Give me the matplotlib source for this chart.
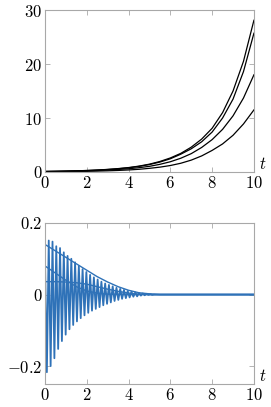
import numpy as np
import matplotlib.pyplot as plt

plt.rcParams['mathtext.fontset'] = 'cm'
plt.rcParams['font.family'] = 'serif'
plt.rcParams['font.serif'] = ['DejaVu Serif']

# courbes du haut (lues sur l'image, pas de 0.5)
t_haut = [0, 0.5, 1, 1.5, 2, 2.5, 3, 3.5, 4, 4.5, 5, 5.5, 6, 6.5, 7, 7.5, 8, 8.5, 9, 9.5, 10]
courbe_a = [0.1, 0.13, 0.17, 0.22, 0.28, 0.37, 0.48, 0.63, 0.82, 1.09, 1.45, 1.95, 2.6, 3.45, 4.6, 6.1, 8.1, 11.0, 15.0, 20.5, 28.1]
courbe_b = [0.1, 0.13, 0.16, 0.21, 0.27, 0.35, 0.46, 0.6, 0.78, 1.04, 1.38, 1.84, 2.45, 3.3, 4.3, 5.6, 7.4, 10.0, 13.5, 18.6, 25.7]
courbe_c = [0.08, 0.10, 0.13, 0.17, 0.22, 0.28, 0.36, 0.47, 0.6, 0.8, 1.05, 1.42, 1.9, 2.55, 3.4, 4.55, 6.0, 7.9, 10.4, 13.7, 18.0]
courbe_d = [0.05, 0.06, 0.08, 0.1, 0.13, 0.17, 0.22, 0.29, 0.38, 0.5, 0.68, 0.9, 1.2, 1.62, 2.2, 2.98, 4.0, 5.2, 6.8, 8.9, 11.5]

# courbe oscillante du bas (pics et creux)
t_osc = [0, 0.09, 0.18, 0.27, 0.36, 0.45, 0.54, 0.63, 0.72, 0.81, 0.90, 0.99, 1.08, 1.17, 1.26,
         1.35, 1.44, 1.53, 1.62, 1.71, 1.80, 1.89, 1.98, 2.07, 2.16, 2.25, 2.34, 2.43, 2.52,
         2.61, 2.70, 2.79, 2.88, 2.97, 3.06, 3.15, 3.24, 3.33, 3.42, 3.51, 3.60, 3.69, 3.78,
         3.87, 3.96, 4.05, 4.14, 4.23, 4.32, 4.41, 4.50, 4.59, 4.68, 4.77, 4.86, 4.95, 5.04,
         5.13, 5.22, 10]
osc = [0.10, -0.217, 0.151, -0.20, 0.148, -0.178, 0.135, -0.152, 0.13, -0.13, 0.118, -0.112, 0.108,
       -0.097, 0.10, -0.085, 0.09, -0.075, 0.08, -0.066, 0.071, -0.058, 0.063, -0.051, 0.055,
       -0.045, 0.048, -0.040, 0.042, -0.035, 0.036, -0.030, 0.031, -0.026, 0.027, -0.022, 0.023,
       -0.018, 0.019, -0.015, 0.016, -0.012, 0.013, -0.010, 0.010, -0.008, 0.008, -0.006, 0.006,
       -0.005, 0.004, -0.003, 0.003, -0.002, 0.002, -0.001, 0.001, -0.001, 0.0, 0.0]

# courbes lisses du bas
t_lisse = [0, 0.5, 1, 1.5, 2, 2.5, 3, 3.5, 4, 4.5, 5, 5.5, 10]
lisse_1 = [0.14, 0.122, 0.104, 0.086, 0.068, 0.05, 0.035, 0.022, 0.012, 0.005, 0.002, 0, 0]
lisse_2 = [0.08, 0.06, 0.04, 0.022, 0.01, 0.004, 0.001, 0, 0, 0, 0, 0, 0]
lisse_3 = [0.036, 0.036, 0.035, 0.033, 0.029, 0.022, 0.015, 0.009, 0.004, 0.001, 0, 0, 0]

xticks = [0, 2, 4, 6, 8, 10]
yticks_haut = [0, 10, 20, 30]
yticks_bas = [-0.2, 0, 0.2]
ylabels_bas = ['$-0.2$', '$0$', '$0.2$']

bleu = '#2f72b8'
gris = '#a8a8a8'

fig = plt.figure(figsize=(2.71, 4.07), dpi=100)
ax1 = fig.add_axes([0.166, 0.5774, 0.771, 0.398])
ax2 = fig.add_axes([0.166, 0.0565, 0.771, 0.3956])

for c in [courbe_a, courbe_b, courbe_c, courbe_d]:
    ax1.plot(t_haut, c, color='black', lw=0.9)
ax1.set_xlim(0, 10)
ax1.set_ylim(0, 30)
ax1.set_yticks(yticks_haut)
ax1.set_yticklabels(['$%d$' % v for v in yticks_haut])

ax2.plot(t_osc, osc, color=bleu, lw=1.3)
for c in [lisse_1, lisse_2, lisse_3]:
    ax2.plot(t_lisse, c, color=bleu, lw=1.0)
ax2.set_xlim(0, 10)
ax2.set_ylim(-0.25, 0.2)
ax2.set_yticks(yticks_bas)
ax2.set_yticklabels(ylabels_bas)

for ax in [ax1, ax2]:
    ax.set_xticks(xticks)
    ax.set_xticklabels(['$%d$' % v for v in xticks])
    ax.tick_params(direction='in', length=3.5, width=0.6, color=gris,
                   top=True, right=True, labelsize=12, pad=2)
    for s in ax.spines.values():
        s.set_color(gris)
        s.set_linewidth(0.8)
    ax.text(1.04, 0.045, '$t$', transform=ax.transAxes, fontsize=12,
            ha='center', va='center')

fig.savefig('out.png', dpi=100)
